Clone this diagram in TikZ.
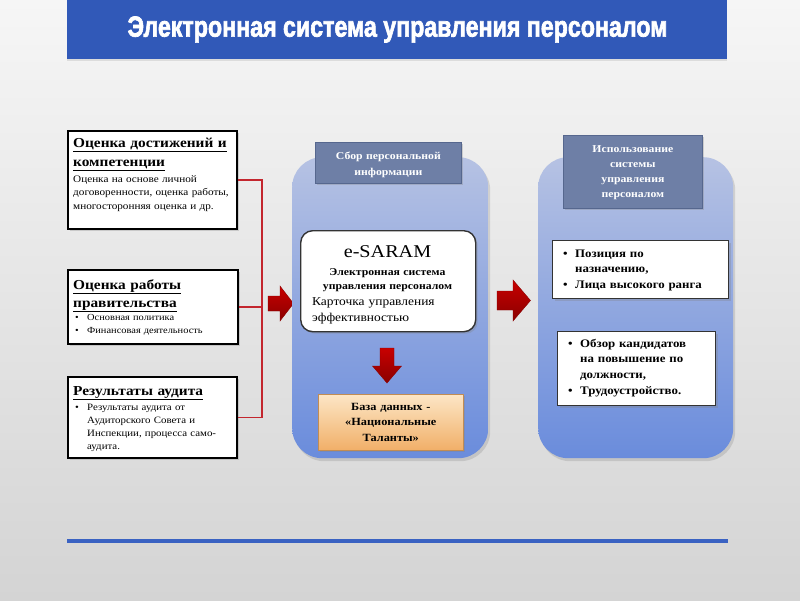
\documentclass[tikz,border=0pt]{standalone}
\usepackage{fontspec}
\setmainfont[FakeStretch=1.12]{Liberation Serif}
\newfontfamily\titlefont[BoldFeatures={FakeBold=2.5}]{Liberation Sans}
\usetikzlibrary{shadows}
\definecolor{bgtop}{HTML}{F6F6F6}
\definecolor{bgbot}{HTML}{D4D4D4}
\definecolor{titleblue}{HTML}{3159B8}
\definecolor{paneltop}{HTML}{B6C2E3}
\definecolor{panelbot}{HTML}{6A8CDC}
\definecolor{headfill}{HTML}{6E7FA6}
\definecolor{headline}{HTML}{56678E}
\definecolor{arrowred}{HTML}{C80000}
\definecolor{arrowdark}{HTML}{8A0000}
\definecolor{linered}{HTML}{C3262E}
\definecolor{dbtop}{HTML}{FCE6C6}
\definecolor{dbbot}{HTML}{F1AF68}
\definecolor{rulecol}{HTML}{3A62C2}
\newcommand{\fs}[2]{\fontsize{#1}{#2}\selectfont}
\newcommand{\bul}{\makebox[14pt][l]{\hspace{2pt}\textbullet}}
\newcommand{\ind}{\hspace*{14pt}}
\tikzset{
  shadowed/.style={drop shadow={shadow xshift=2pt,shadow yshift=-2pt,opacity=0.3}},
  lbox/.style={draw=black, line width=1.6pt, fill=white, anchor=north west, inner sep=0, shadowed},
  panel/.style={anchor=north west, inner sep=0, rounded corners=30pt, top color=paneltop, bottom color=panelbot, draw=none, drop shadow={shadow xshift=2pt,shadow yshift=-3pt,opacity=0.25}},
  headbox/.style={anchor=north west, inner sep=0, fill=headfill, draw=headline, line width=0.8pt, shadowed},
  whitebox/.style={anchor=north west, inner sep=0, fill=white, draw=black!80, line width=1.4pt, shadowed},
  txtl/.style={anchor=base west, inner sep=0, align=left},
  txtc/.style={anchor=base, inner sep=0, align=center},
  redline/.style={draw=linered, line width=1.4pt},
  blockarrow/.style={top color=arrowred, bottom color=arrowdark, draw=arrowdark, line width=0.4pt}
}
\begin{document}
\begin{tikzpicture}[x=1pt,y=-1pt]
\useasboundingbox (0,0) rectangle (800,600);
\shade[top color=bgtop, bottom color=bgbot] (0,0) rectangle (800,600);

% title
\node[anchor=north west, inner sep=0, fill=titleblue, minimum width=660pt, minimum height=59pt, drop shadow={shadow xshift=0pt,shadow yshift=-1.5pt,opacity=0.2}] (title) at (67,0) {};
\node[inner sep=0, text=white, font=\titlefont\bfseries\fs{29}{29}] (titletext) at (397.5,29.5) {\scalebox{0.80}[1]{Электронная система управления персоналом}};

% left boxes
\node[lbox, minimum width=169pt, minimum height=98pt] (b1) at (67,130) {};
\node[txtl, text width=165pt, font=\bfseries\fs{13.7}{19}] (b1h) at (73,147) {\underline{Оценка достижений и}\\\underline{компетенции}};
\node[txtl, text width=165pt, font=\fs{10}{13.5}] (b1b) at (73,182) {Оценка на основе личной\\договоренности, оценка работы,\\многосторонняя оценка и др.};

\node[lbox, minimum width=170pt, minimum height=74pt] (b2) at (67,269) {};
\node[txtl, text width=165pt, font=\bfseries\fs{13.7}{18}] (b2h) at (73,289) {\underline{Оценка работы}\\\underline{правительства}};
\node[txtl, text width=165pt, font=\fs{9.3}{13}] (b2b) at (73,320) {\bul Основная политика\\\bul Финансовая деятельность};

\node[lbox, minimum width=169pt, minimum height=81pt] (b3) at (67,376) {};
\node[txtl, text width=165pt, font=\bfseries\fs{13.7}{19}] (b3h) at (73,395) {\underline{Результаты аудита}};
\node[txtl, text width=165pt, font=\fs{9.7}{13.3}] (b3b) at (73,410) {\bul Результаты аудита от\\\ind Аудиторского Совета и\\\ind Инспекции, процесса само-\\\ind аудита.};

% red connectors
\coordinate (jx) at (262,0);
\draw[redline] (b1.east) -| (jx |- b3.east) -- (b3.east);
\draw[redline] (b2.east) -- (b2.east -| jx);

% left block arrow
\draw[blockarrow] (268,296) -- (280,296) -- (280,286) -- (293.5,303.5) -- (280,321) -- (280,311) -- (268,311) -- cycle;

% middle panel
\node[panel, minimum width=196pt, minimum height=301pt] (p1) at (292,157) {};
\node[headbox, minimum width=146pt, minimum height=41pt] (h1) at (315,142) {};
\node[txtc, text width=146pt, text=white, font=\bfseries\fs{10.5}{16}] (h1t) at (h1.center |- 0,159) {Сбор персональной\\информации};

\node[whitebox, rounded corners=12pt, minimum width=175pt, minimum height=101pt] (es) at (300,230) {};
\node[txtc, text width=175pt, font=\fs{18}{18}] (est) at (387.5,257) {e-SARAM};
\node[txtc, text width=175pt, font=\bfseries\fs{10.5}{14.5}] (esb) at (387.5,275) {Электронная система\\управления персоналом};
\node[txtl, text width=165pt, font=\fs{12}{16.5}] (esc) at (312,305) {Карточка управления\\эффективностью};

\draw[blockarrow] (380,348) -- (394,348) -- (394,366) -- (401.5,366) -- (387,383) -- (372.5,366) -- (380,366) -- cycle;

\node[anchor=north west, inner sep=0, top color=dbtop, bottom color=dbbot, draw=dbbot!80!black, line width=0.6pt, minimum width=145pt, minimum height=56pt, shadowed] (db) at (318,394) {};
\node[txtc, text width=145pt, font=\bfseries\fs{11}{15.5}] (dbt) at (db.center |- 0,410) {База данных -\\«Национальные\\Таланты»};

% middle arrow
\draw[blockarrow] (497,291) -- (513,291) -- (513,280) -- (530.5,300.5) -- (513,321) -- (513,310) -- (497,310) -- cycle;

% right panel
\node[panel, minimum width=195pt, minimum height=301pt] (p2) at (538,157) {};
\node[headbox, minimum width=139pt, minimum height=73pt] (h2) at (563,135) {};
\node[txtc, text width=139pt, text=white, font=\bfseries\fs{10.5}{15.3}] (h2t) at (h2.center |- 0,152) {Использование\\системы\\управления\\персоналом};

\node[whitebox, minimum width=176pt, minimum height=58pt] (ba) at (552,240) {};
\node[txtl, text width=170pt, font=\bfseries\fs{11.5}{15.5}] (bat) at (561,257) {\bul Позиция по\\\ind назначению,\\\bul Лица высокого ранга};

\node[whitebox, minimum width=158pt, minimum height=74pt] (bb) at (557,331) {};
\node[txtl, text width=155pt, font=\bfseries\fs{11.5}{15.7}] (bbt) at (566,347) {\bul Обзор кандидатов\\\ind на повышение по\\\ind должности,\\\bul Трудоустройство.};

% bottom rule
\coordinate (r1) at (67,541);
\coordinate (r2) at (728,541);
\draw[rulecol, line width=4.5pt] (r1) -- (r2);
\end{tikzpicture}
\end{document}
